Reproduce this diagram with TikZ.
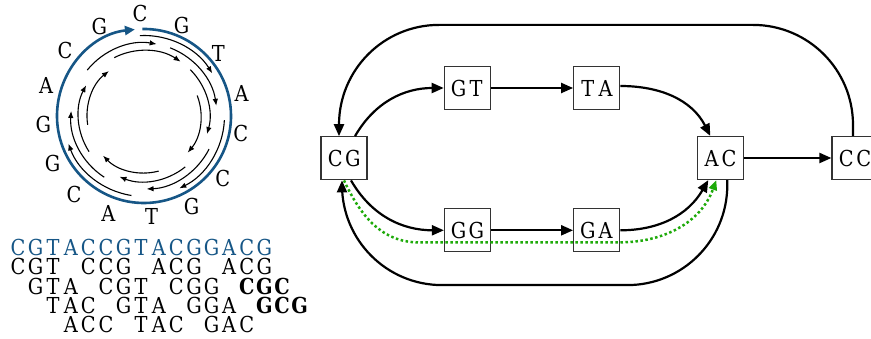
\documentclass[tikz,border=0pt]{standalone}
\usepackage{fontspec}
\usepackage{graphicx}
\usetikzlibrary{arrows.meta,calc}
\definecolor{seqblue}{RGB}{22,86,134}
\definecolor{pathgreen}{RGB}{30,170,10}
\newfontfamily\seqfam{DejaVu Serif}
\newcommand\seqfont{\seqfam\fontsize{22}{22}\selectfont}
\ExplSyntaxOn
\NewDocumentCommand\seqrow{m}{\str_map_inline:nn {#1}{\makebox[17.6pt]{\scalebox{0.88}[1]{##1}}}}
\ExplSyntaxOff
\begin{document}
\begin{tikzpicture}[x=1pt,y=1pt,
  kbox/.style={draw=black!80, line width=1.2pt, minimum width=46pt, minimum height=43pt, inner sep=0pt, font=\seqfont},
  edge/.style={line width=2.2pt, -{Triangle[length=12pt,width=10pt]}},
  greenpath/.style={pathgreen, line width=2.5pt, dash pattern=on 2.5pt off 2.5pt, -{Triangle[length=10pt,width=8pt]}},
  readarc/.style={line width=1.1pt, -{Latex[length=7pt,width=5.5pt]}},
  letter/.style={font=\seqfont, inner sep=0pt},
  seqline/.style={font=\seqfont, inner sep=0pt, anchor=west}
]
\useasboundingbox (0,0) rectangle (871,-339);
% circle
\coordinate (ctr) at (144,-116);
\draw[seqblue, line width=2.6pt, -{Triangle[length=10pt,width=9pt]}] (ctr) ++(91:87) arc[start angle=91, end angle=-264, radius=87];
\foreach \i/\r in {0/80.5,1/73,2/65.5,3/57,4/80.5,5/73,6/65.5,7/57,8/80.5,9/73,10/65.5,11/57,13/73,14/65.5} {
  \pgfmathsetmacro\s{92-24*\i+1}
  \pgfmathsetmacro\e{92-24*\i-60}
  \draw[readarc] (ctr) ++(\s:\r) arc[start angle=\s, end angle=\e, radius=\r];
}
\foreach \ch/\x/\y [count=\k] in {C/140/13.3, G/181.7/25, T/218.3/53.3, A/241.7/93.3, C/240.7/133.3, C/222.7/178.3, G/191.7/206.7, T/151.7/216, A/108.3/213.3, C/74/194, G/52.7/163.3, G/43.3/124, A/46/85, C/65/50, G/99.3/26} {
  \node[letter] (l\k) at (\x,-\y) {\scalebox{0.88}[1]{\ch}};
}
% sequence rows
\node[seqline, text=seqblue] (s0) at (9,-247.3) {\seqrow{CGTACCGTACGGACG}};
\node[seqline] (s1) at (9,-266.7) {\seqrow{CGT CCG ACG ACG}};
\node[seqline] (s2) at (26.6,-286.7) {\seqrow{GTA CGT CGG }\textbf{\seqrow{CGC}}};
\node[seqline] (s3) at (44.2,-305.7) {\seqrow{TAC GTA GGA }\textbf{\seqrow{GCG}}};
\node[seqline] (s4) at (61.8,-324.3) {\seqrow{ACC TAC GAC}};
% graph
\node[kbox] (CG) at (344,-158.3) {\seqrow{CG}};
\node[kbox] (GT) at (467.3,-88) {\seqrow{GT}};
\node[kbox] (TA) at (596.7,-88) {\seqrow{TA}};
\node[kbox] (AC) at (720.3,-158) {\seqrow{AC}};
\node[kbox] (CC) at (855,-158) {\seqrow{CC}};
\node[kbox] (GG) at (467.5,-230.3) {\seqrow{GG}};
\node[kbox] (GA) at (596.7,-230.3) {\seqrow{GA}};
\draw[edge] (GT) -- (TA);
\draw[edge] (GG) -- (GA);
\draw[edge] (AC) -- (CC);
\draw[edge] ([xshift=11pt]CG.north) to[out=60,in=180] (GT.west);
\draw[edge] ([yshift=2pt]TA.east) to[out=0,in=117] ([xshift=-10pt]AC.north);
\draw[edge] ([xshift=7pt]CG.south) to[out=-60,in=180] (GG.west);
\draw[edge] (GA.east) to[out=0,in=240] ([xshift=-12pt]AC.south);
\draw[edge, rounded corners=100pt] ([xshift=-2pt]CC.north) -- ++(0,111) -| ([xshift=-5pt]CG.north);
\draw[edge, rounded corners=100pt] ([xshift=7pt]AC.south) -- ++(0,-105) -| ([xshift=-2pt]CG.south);
\draw[greenpath] (CG.south) to[out=-65,in=180] ++(75,-62) -- ++(200,0) to[out=0,in=250] ([xshift=-4pt]AC.south);
\end{tikzpicture}
\end{document}
